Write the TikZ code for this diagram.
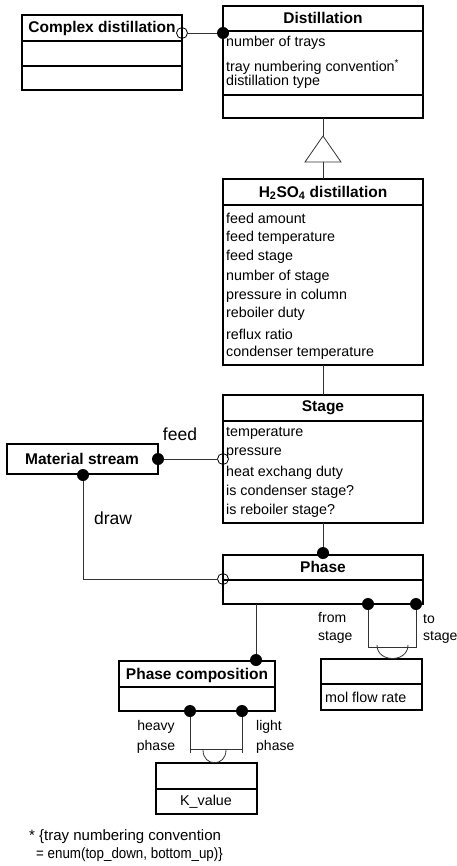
\documentclass[tikz,border=0pt]{standalone}
\usepackage{fontspec}
\setmainfont{Liberation Sans}
\begin{document}
\begin{tikzpicture}[x=1pt,y=-1pt,
  box/.style={draw=black, line width=1.1pt, fill=white, anchor=north west, inner sep=0pt, outer sep=0pt},
  sep/.style={line width=1.1pt},
  conn/.style={draw=black!80, line width=0.8pt},
  ttl/.style={font=\bfseries\fontsize{15.5}{17}\selectfont, inner sep=0pt},
  attr/.style={font=\fontsize{14.3}{16}\selectfont, anchor=west, inner sep=0pt},
  lbl/.style={font=\fontsize{14}{16}\selectfont, inner sep=0pt},
  biglbl/.style={font=\fontsize{17.5}{19}\selectfont, inner sep=0pt},
  fnote/.style={font=\fontsize{15}{17}\selectfont, inner sep=0pt, anchor=west},
  fdot/.style={circle, fill=black, minimum size=12pt, inner sep=0pt, outer sep=0pt},
  odot/.style={circle, draw=black, line width=0.8pt, minimum size=11pt, inner sep=0pt, outer sep=0pt}]
\useasboundingbox (0,0) rectangle (456,866);
% boxes
\node[box, minimum width=160pt, minimum height=75pt] (cd) at (22,15) {};
\node[box, minimum width=200pt, minimum height=112pt] (dist) at (223,6) {};
\node[box, minimum width=200pt, minimum height=186pt] (h2) at (223,179) {};
\node[box, minimum width=200pt, minimum height=128pt] (stage) at (223,395) {};
\node[box, minimum width=151pt, minimum height=30pt] (ms) at (7,444) {};
\node[box, minimum width=200pt, minimum height=49pt] (phase) at (223,555) {};
\node[box, minimum width=156pt, minimum height=50pt] (pc) at (119,661) {};
\node[box, minimum width=101pt, minimum height=51pt] (mfr) at (321,659) {};
\node[box, minimum width=101pt, minimum height=51pt] (kv) at (156,763) {};
% separators
\draw[sep] (22,41) -- (182,41);
\draw[sep] (22,66) -- (182,66);
\draw[sep] (223,31) -- (423,31);
\draw[sep] (223,95) -- (423,95);
\draw[sep] (223,205) -- (423,205);
\draw[sep] (223,421) -- (423,421);
\draw[sep] (223,580) -- (423,580);
\draw[sep] (119,687) -- (275,687);
\draw[sep] (321,684) -- (422,684);
\draw[sep] (156,789) -- (257,789);
% titles
\node[ttl] (cdT) at (102,28) {Complex distillation};
\node[ttl] (distT) at (323,18) {Distillation};
\node[ttl] (h2T) at (323,193) {H\textsubscript{2}SO\textsubscript{4} distillation};
\node[ttl] (stageT) at (323,408) {Stage};
\node[ttl] (msT) at (82,459) {Material stream};
\node[ttl] (phaseT) at (323,567) {Phase};
\node[ttl] (pcT) at (197,675) {Phase composition};
% attributes
\node[attr] (d1) at (226,43) {number of trays};
\node[attr] (d2) at (226,67) {tray numbering convention\textsuperscript{*}};
\node[attr] (d3) at (226,82) {distillation type};
\node[attr] (a1) at (226,218.3) {feed amount};
\node[attr] (a2) at (226,237.7) {feed temperature};
\node[attr] (a3) at (226,257.3) {feed stage};
\node[attr] (a4) at (226,276.7) {number of stage};
\node[attr] (a5) at (226,295.7) {pressure in column};
\node[attr] (a6) at (226,314.3) {reboiler duty};
\node[attr] (a7) at (226,334.3) {reflux ratio};
\node[attr] (a8) at (226,353.3) {condenser temperature};
\node[attr] (s1) at (226,433.3) {temperature};
\node[attr] (s2) at (226,452.7) {pressure};
\node[attr] (s3) at (226,472.7) {heat exchang duty};
\node[attr] (s4) at (226,491.7) {is condenser stage?};
\node[attr] (s5) at (226,510.7) {is reboiler stage?};
\node[attr] (m1) at (325,697) {mol flow rate};
\node[attr, anchor=center] (k1) at (206,802) {K\_value};
% generalization
\coordinate (triTop) at (323,136);
\coordinate (triBot) at (323,162);
\draw[conn] (dist.south) -- (triTop);
\draw[conn, fill=white] (triTop) -- (341,162) -- (305,162) -- cycle;
\draw[conn] (triBot) -- (h2.north);
\draw[conn] (h2.south) -- (stage.north);
% complex distillation - distillation
\node[odot] (o1) at (182,33) {};
\node[fdot] (f1) at (223,33) {};
\draw[conn] (o1) -- (f1);
% feed
\node[fdot] (f2) at (158,459) {};
\node[odot] (o2) at (223,459) {};
\draw[conn] (f2) -- (o2);
\node[biglbl] (feedL) at (180,434) {feed};
% draw
\node[fdot] (f3) at (83,475) {};
\node[odot] (o3) at (223,579) {};
\draw[conn] (f3) |- (o3);
\node[biglbl] (drawL) at (113,518) {draw};
% stage - phase
\node[fdot] (f4) at (323,553) {};
\draw[conn] (stage.south) -- (f4);
% phase - phase composition
\node[fdot] (f5) at (256,660) {};
\draw[conn] (phase.south -| f5) -- (f5);
% phase - mol flow rate
\node[fdot] (f6) at (368,604) {};
\node[fdot] (f7) at (416,604) {};
\coordinate (j1) at (368,647);
\coordinate (j2) at (416,647);
\draw[conn] (f6) -- (j1) -- (j2) -- (f7);
\coordinate (q1) at (377,645);
\coordinate (q2) at (408,645);
\draw[conn] (q1) .. controls (377,663) and (408,663) .. (q2);
\node[lbl, anchor=west] (fromL1) at (318,617) {from};
\node[lbl, anchor=west] (fromL2) at (318,637) {stage};
\node[lbl, anchor=west] (toL1) at (423,619) {to};
\node[lbl, anchor=west] (toL2) at (423,637) {stage};
% phase composition - K value
\node[fdot] (f8) at (190,711) {};
\node[fdot] (f9) at (242,711) {};
\coordinate (j3) at (190,753);
\coordinate (j4) at (242,753);
\draw[conn] (f8) -- (j3);
\draw[conn] (f9) -- (j4);
\draw[conn] (190,749) -- (242,749);
\coordinate (q3) at (203,750);
\coordinate (q4) at (226,750);
\draw[conn] (q3) .. controls (203,767) and (226,767) .. (q4);
\node[lbl] (hvL1) at (156,727) {heavy};
\node[lbl] (hvL2) at (156,747) {phase};
\node[lbl, anchor=west] (ltL1) at (256,727) {light};
\node[lbl, anchor=west] (ltL2) at (256,747) {phase};
% footnote
\node[fnote] (fn1) at (29,837) {* \{tray numbering convention};
\node[fnote] (fn2) at (36,855) {\scalebox{0.89}[1]{= enum(top\_down, bottom\_up)\}}};
\end{tikzpicture}
\end{document}
